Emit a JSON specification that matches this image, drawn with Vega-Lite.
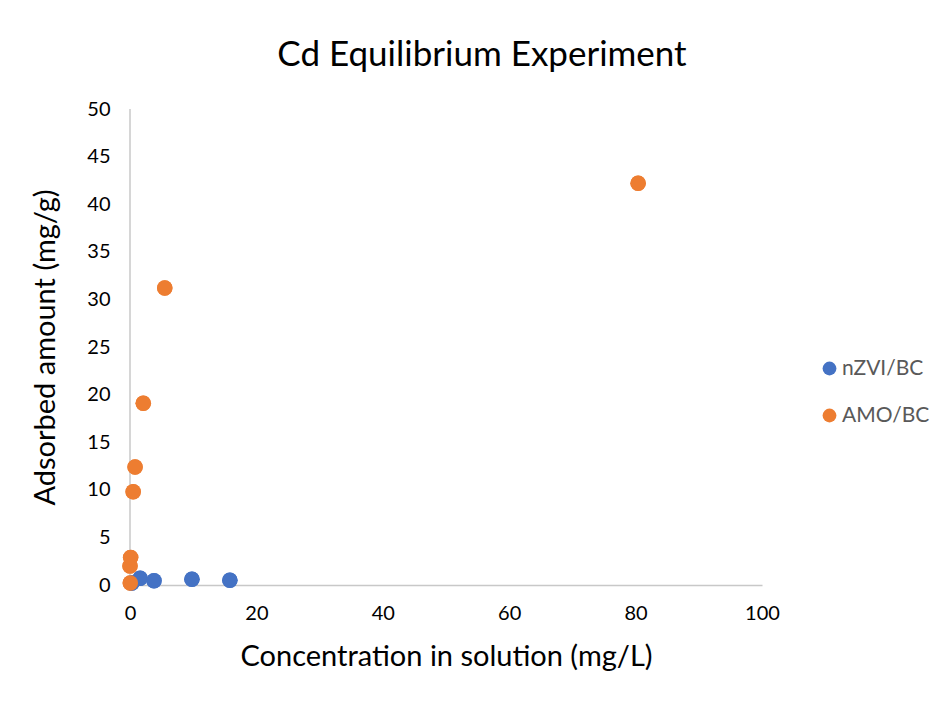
{
  "$schema": "https://vega.github.io/schema/vega-lite/v6.json",
  "autosize": "none",
  "width": 632,
  "height": 476,
  "padding": {"left": 130, "top": 109, "right": 186, "bottom": 117},
  "background": "white",
  "title": {
    "text": "Cd Equilibrium Experiment",
    "font": "Lato",
    "fontSize": 35,
    "fontWeight": "normal",
    "color": "#000000",
    "anchor": "middle",
    "dx": 36,
    "offset": 26
  },
  "config": {
    "view": {"stroke": null},
    "font": "Lato"
  },
  "data": {
    "values": [
      {"series": "nZVI/BC", "x": 0.3, "y": 0.2},
      {"series": "nZVI/BC", "x": 1.6, "y": 0.7},
      {"series": "nZVI/BC", "x": 3.8, "y": 0.45},
      {"series": "nZVI/BC", "x": 9.8, "y": 0.6},
      {"series": "nZVI/BC", "x": 15.8, "y": 0.5},
      {"series": "AMO/BC", "x": 0.05, "y": 0.2},
      {"series": "AMO/BC", "x": 0.0, "y": 2.0},
      {"series": "AMO/BC", "x": 0.1, "y": 2.9},
      {"series": "AMO/BC", "x": 0.5, "y": 9.8},
      {"series": "AMO/BC", "x": 0.8, "y": 12.4},
      {"series": "AMO/BC", "x": 2.1, "y": 19.1},
      {"series": "AMO/BC", "x": 5.5, "y": 31.2},
      {"series": "AMO/BC", "x": 80.4, "y": 42.2}
    ]
  },
  "layer": [
    {
      "mark": {"type": "circle", "size": 240, "opacity": 1},
      "encoding": {
        "x": {
          "field": "x",
          "type": "quantitative",
          "scale": {"domain": [0, 100], "nice": false},
          "axis": {
            "title": "Concentration in solution (mg/L)",
            "titleFont": "Lato",
            "titleFontSize": 29,
            "titleFontWeight": "normal",
            "titleColor": "#000000",
            "titlePadding": 19,
            "values": [0, 20, 40, 60, 80, 100],
            "labelFontSize": 20,
            "labelColor": "#000000",
            "labelPadding": 18,
            "labelFlush": false,
            "grid": false,
            "ticks": false,
            "domainColor": "#C8C8C8",
            "domainWidth": 1.5
          }
        },
        "y": {
          "field": "y",
          "type": "quantitative",
          "scale": {"domain": [0, 50], "nice": false},
          "axis": {
            "title": "Adsorbed amount (mg/g)",
            "titleFont": "Lato",
            "titleFontSize": 29,
            "titleFontWeight": "normal",
            "titleColor": "#000000",
            "titlePadding": 26,
            "values": [0, 5, 10, 15, 20, 25, 30, 35, 40, 45, 50],
            "labelFontSize": 20,
            "labelColor": "#000000",
            "labelPadding": 20,
            "labelFlush": false,
            "grid": false,
            "ticks": false,
            "domain": false
          }
        },
        "color": {
          "field": "series",
          "type": "nominal",
          "sort": ["nZVI/BC", "AMO/BC"],
          "scale": {"domain": ["nZVI/BC", "AMO/BC"], "range": ["#4472C4", "#ED7D31"]},
          "legend": {
            "title": null,
            "orient": "none",
            "legendX": 689,
            "legendY": 249,
            "symbolType": "circle",
            "symbolSize": 190,
            "labelFontSize": 21,
            "labelColor": "#595959",
            "rowPadding": 25,
            "labelOffset": 2
          }
        }
      }
    },
    {
      "data": {"values": [{"x0": 0}]},
      "mark": {"type": "rule", "color": "#C8C8C8", "strokeWidth": 1.5},
      "encoding": {"x": {"field": "x0", "type": "quantitative"}}
    },
    {
      "mark": {"type": "circle", "size": 240, "opacity": 1},
      "encoding": {
        "x": {"field": "x", "type": "quantitative"},
        "y": {"field": "y", "type": "quantitative"},
        "color": {"field": "series", "type": "nominal"}
      }
    }
  ]
}
